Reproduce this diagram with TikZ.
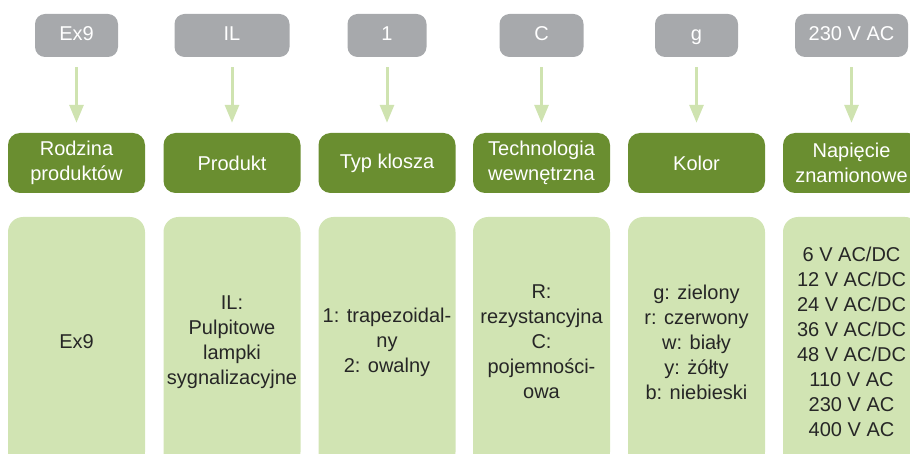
\documentclass[tikz,border=0pt]{standalone}
\usepackage{fontspec}
\setmainfont{Liberation Sans}
\usetikzlibrary{arrows.meta}
\definecolor{codegray}{HTML}{A7A9AC}
\definecolor{headgreen}{HTML}{6A8E30}
\definecolor{boxgreen}{HTML}{D1E4B3}
\definecolor{linkgreen}{HTML}{CFE3B0}
\definecolor{textgray}{HTML}{262626}
\begin{document}
\begin{tikzpicture}[x=1pt,y=1pt]
\tikzstyle{every node}+=[inner sep=0pt, align=center, font=\fontsize{20}{25}\selectfont]
\tikzstyle{code}=[fill=codegray, text=white, rounded corners=10pt, minimum height=43pt, text height=14.5pt, text depth=4pt]
\tikzstyle{head}=[fill=headgreen, text=white, rounded corners=12pt, minimum width=137pt, minimum height=60pt]
\tikzstyle{list}=[fill=boxgreen, text=textgray, rounded corners=15pt, minimum width=137pt, minimum height=250pt]
\tikzstyle{link}=[linkgreen, line width=3pt, shorten <=10pt, shorten >=10pt, -{Triangle[width=14pt,length=18pt]}]
\useasboundingbox (0,0) rectangle (910,-454);
\clip (0,0) rectangle (910,-454);
% codes
\node [code, minimum width=83pt] (ex9) at (76.5,-35.5) {Ex9};
\node [code, minimum width=115pt] (il) at (232,-35.5) {IL};
\node [code, minimum width=79pt] (one) at (387,-35.5) {1};
\node [code, minimum width=84pt] (c) at (541.5,-35.5) {C};
\node [code, minimum width=83pt] (g) at (696.5,-35.5) {g};
\node [code, minimum width=113pt] (volt) at (851.5,-35.5) {230 V AC};
% headers
\node [head] (rodzina) at (76.5,-163) {Rodzina\\produktów};
\node [head] (produkt) at (232,-163) {Produkt};
\node [head] (klosz) at (387,-163) {Typ klosza};
\node [head] (techn) at (541.5,-163) {Technologia\\wewnętrzna};
\node [head] (kolor) at (696.5,-163) {Kolor};
\node [head] (napiecie) at (851.5,-163) {Napięcie\\znamionowe};
% lists
\node [list] (ex9list) at (76.5,-342) {Ex9};
\node [list] (illist) at (232,-342) {IL:\\Pulpitowe\\lampki\\sygnalizacyjne};
\node [list] (klosztyp) at (387,-342) {1: trapezoidal-\\ny\\2: owalny};
\node [list] (technlist) at (541.5,-342) {R:\\rezystancyjna\\C:\\pojemności-\\owa};
\node [list] (kolorlist) at (696.5,-342) {g: zielony\\r: czerwony\\w: biały\\y: żółty\\b: niebieski};
\node [list] (voltlist) at (851.5,-342) {6 V AC/DC\\12 V AC/DC\\24 V AC/DC\\36 V AC/DC\\48 V AC/DC\\110 V AC\\230 V AC\\400 V AC};
% links
\draw [link] (ex9.south) -- (rodzina.north);
\draw [link] (il.south) -- (produkt.north);
\draw [link] (one.south) -- (klosz.north);
\draw [link] (c.south) -- (techn.north);
\draw [link] (g.south) -- (kolor.north);
\draw [link] (volt.south) -- (napiecie.north);
\end{tikzpicture}
\end{document}
